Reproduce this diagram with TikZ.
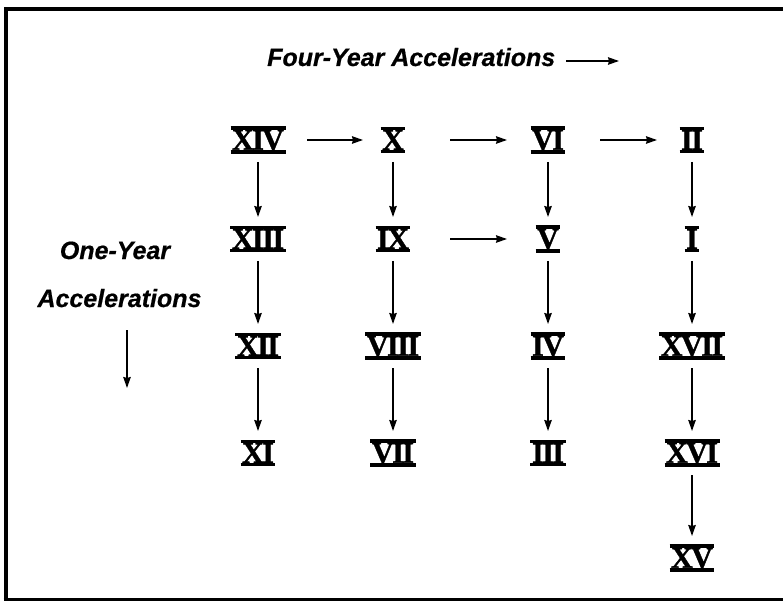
\documentclass[tikz,border=0pt]{standalone}
\usepackage{fontspec}
\setmainfont{Liberation Serif}
\newfontfamily\romfont[LetterSpace=-5,FakeBold=1.2]{Liberation Serif}
\newfontfamily\labfont[FakeBold=0.6]{Liberation Sans}
\usetikzlibrary{arrows.meta}
\newcommand{\rn}[1]{\setbox0=\hbox{\kern1.5pt#1\kern1.5pt}\vbox{\hrule width\wd0 height3.5pt\copy0\hrule width\wd0 height3.5pt}}
\begin{document}
\begin{tikzpicture}[x=1pt,y=-1pt,
  rom/.style={font={\romfont\bfseries\fontsize{30}{30}\selectfont}, inner sep=0pt},
  lab/.style={font={\labfont\bfseries\itshape\fontsize{25}{30}\selectfont}, inner sep=0pt},
  arr/.style={line width=1.5pt, -{Stealth[length=11pt,width=7.5pt,inset=1pt]}},
  varr/.style={arr, shorten <=22pt, shorten >=22pt}]
\useasboundingbox (0,0) rectangle (783,601);
% frame
\draw[line width=4pt] (5.5,601) -- (5.5,9) -- (783,9);
\draw[line width=3pt] (3.5,599.5) -- (783,599.5);
% labels
\node[lab, anchor=base west] (title) at (267,66) {Four-Year Accelerations};
\coordinate (ta1) at (566,61);
\coordinate (ta2) at (619,61);
\draw[arr] (ta1) -- (ta2);
\node[lab, anchor=base] (one) at (115,259) {One-Year};
\node[lab, anchor=base] (acc) at (119.5,307) {Accelerations};
\coordinate (la1) at (127,330);
\coordinate (la2) at (127,388);
\draw[arr] (la1) -- (la2);
% numerals
\node[rom] (n14) at (258,140) {\rn{XIV}};
\node[rom] (n13) at (258,239) {\rn{XIII}};
\node[rom] (n12) at (258,346) {\rn{XII}};
\node[rom] (n11) at (258,453) {\rn{XI}};
\node[rom] (n10) at (393,140) {\rn{X}};
\node[rom] (n9) at (393,239) {\rn{IX}};
\node[rom] (n8) at (393,346) {\rn{VIII}};
\node[rom] (n7) at (393,453) {\rn{VII}};
\node[rom] (n6) at (548,140) {\rn{VI}};
\node[rom] (n5) at (548,239) {\rn{V}};
\node[rom] (n4) at (548,346) {\rn{IV}};
\node[rom] (n3) at (548,453) {\rn{III}};
\node[rom] (n2) at (692,140) {\rn{II}};
\node[rom] (n1) at (692,239) {\rn{I}};
\node[rom] (n17) at (692,346) {\rn{XVII}};
\node[rom] (n16) at (692,453) {\rn{XVI}};
\node[rom] (n15) at (692,558) {\rn{XV}};
% horizontal arrows
\draw[arr, shorten <=49pt, shorten >=30pt] (n14.center) -- (n10.center);
\draw[arr, shorten <=57pt, shorten >=41pt] (n10.center) -- (n6.center);
\draw[arr, shorten <=52pt, shorten >=35pt] (n6.center) -- (n2.center);
\draw[arr, shorten <=57pt, shorten >=41pt] (n9.center) -- (n5.center);
% vertical arrows
\draw[varr] (n14.center) -- (n13.center);
\draw[varr] (n13.center) -- (n12.center);
\draw[varr] (n12.center) -- (n11.center);
\draw[varr] (n10.center) -- (n9.center);
\draw[varr] (n9.center) -- (n8.center);
\draw[varr] (n8.center) -- (n7.center);
\draw[varr] (n6.center) -- (n5.center);
\draw[varr] (n5.center) -- (n4.center);
\draw[varr] (n4.center) -- (n3.center);
\draw[varr] (n2.center) -- (n1.center);
\draw[varr] (n1.center) -- (n17.center);
\draw[varr] (n17.center) -- (n16.center);
\draw[varr] (n16.center) -- (n15.center);
\end{tikzpicture}
\end{document}
